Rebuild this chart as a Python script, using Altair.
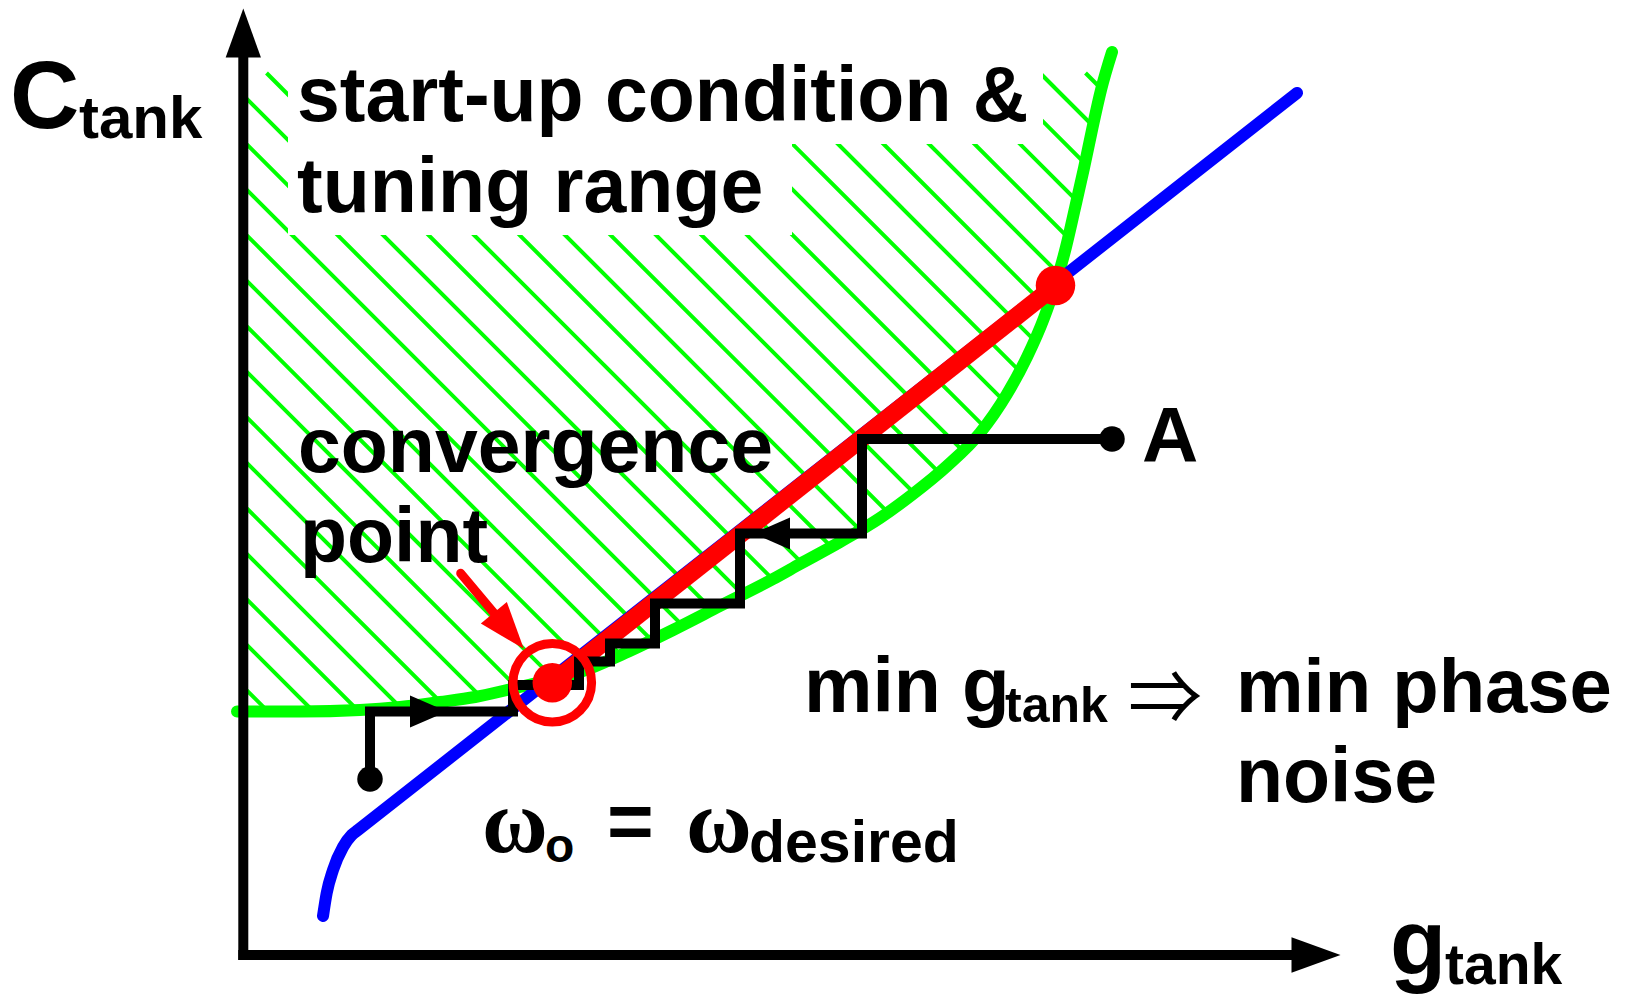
import altair as alt
import pandas as pd

# ---------------- diagram data (reference pixel units: g to the right, C downward) ----------------
# green start-up boundary curve
green_g = [237, 300, 360, 400, 440, 475, 507, 545, 580, 625, 673, 720, 773, 800, 840, 880, 913, 947,
           980, 1007, 1027, 1044, 1056, 1066, 1075, 1084, 1092, 1101, 1112]
green_c = [711.5, 711.5, 710, 707, 702, 697, 690, 681, 672, 653, 630, 606, 579, 564, 542, 518, 494, 466,
           433, 394, 357, 318, 283, 247, 208, 168, 130, 90, 52]

# blue oscillation-frequency curve (omega_o = omega_desired)
blue_g = [323, 326.7, 333, 343, 351.7, 358, 1297]
blue_c = [916, 893, 870, 847, 835, 830, 93]

# red tuning-range segment and its end points
red_g = [552.3, 1055.5]
red_c = [682.7, 285.5]

# black convergence staircase from start point to point A
stair_g = [370, 370, 513, 513, 579, 579, 610, 610, 655, 655, 740, 740, 862, 862, 1112]
stair_c = [779, 711.5, 711.5, 685, 685, 661.5, 661.5, 643.5, 643.5, 603.5, 603.5, 533.5, 533.5, 439, 439]
dot_g = [370, 1112]
dot_c = [779, 439]

# arrowheads on the staircase (centre, direction angle)
stair_arrow_g = [428.5, 771.5]
stair_arrow_c = [711.5, 533.5]
stair_arrow_angle = [0, 180]

# red pointer arrow to the convergence point
pointer_g = [460.7, 494.2]
pointer_c = [573.3, 613.3]
pointer_head = (508.8, 630.8, 50.3)

# axes
axis_origin = (243.3, 955)
y_axis_top = 57
x_axis_end = 1292
axis_arrow_g = [243.3, 1316]
axis_arrow_c = [33, 955]
axis_arrow_angle = [270, 0]

# hatch pattern parameters
hatch_top = 73
hatch_spacing = 45.5
hatch_ref = (248, 100)

# white box behind title text
box1 = (288, 1043, 60, 144)
box2 = (288, 792, 60, 235)

# labels
labels = ["start-up condition &", "tuning range", "convergence", "point", "A",
          "min", "g", "tank", "min phase", "noise", "=", "o", "desired",
          "C", "tank", "g", "tank"]
label_g = [297, 297, 298, 300, 1142, 804, 962, 1005, 1236, 1236, 607, 545, 749, 10, 79, 1390, 1445]
label_c = [120.7, 212.3, 471.7, 561.7, 461.7, 711.7, 711.7, 721.7, 711.7, 801.7, 848, 861.7, 861.7,
           128.3, 138.3, 975, 984]
label_size = [77, 77, 77, 77, 78, 77, 78, 50, 76, 77, 80, 48, 59, 96, 60, 92, 57]

omega_labels = ["ω", "ω"]
omega_g = [482, 686]
omega_c = [851.7, 851.7]

implies_label = ["⇒"]
implies_g = [1128]
implies_c = [724]

# ---------------- scales ----------------
XS = alt.Scale(domain=[0, 1627], range=[-8, 1619], nice=False, zero=False)
YS = alt.Scale(domain=[0, 1007], range=[-8, 999], nice=False, zero=False)


def X(f="g"):
    return alt.X(f"{f}:Q", scale=XS, axis=None)


def Y(f="c"):
    return alt.Y(f"{f}:Q", scale=YS, axis=None)


FONT = "Liberation Sans Narrow, Arial Narrow, Liberation Sans, sans-serif"

# hatch lines (45 degree pattern clipped at top/left, masked below the green curve)
hatch_rows = []
c0 = hatch_ref[1] - hatch_ref[0]
for k in range(-20, 15):
    c = c0 + hatch_spacing * k
    x_left = axis_origin[0]
    if x_left + c >= hatch_top:
        g1, c1 = x_left, x_left + c
    else:
        g1, c1 = hatch_top - c, hatch_top
    g2, c2 = 960 - c, 960
    if g1 < 1120 and c1 < 960:
        hatch_rows.append(dict(g=g1, c=c1, g2=g2, c2=c2))
hatch_df = pd.DataFrame(hatch_rows)

green_df = pd.DataFrame(dict(g=green_g, c=green_c, bottom=[1007] * len(green_g), i=range(len(green_g))))
blue_df = pd.DataFrame(dict(g=blue_g, c=blue_c, i=range(len(blue_g))))
red_df = pd.DataFrame(dict(g=red_g, c=red_c, i=range(len(red_g))))
stair_df = pd.DataFrame(dict(g=stair_g, c=stair_c, i=range(len(stair_g))))
dot_df = pd.DataFrame(dict(g=dot_g, c=dot_c))
sarrow_df = pd.DataFrame(dict(g=stair_arrow_g, c=stair_arrow_c, a=stair_arrow_angle))
aarrow_df = pd.DataFrame(dict(g=axis_arrow_g, c=axis_arrow_c, a=axis_arrow_angle))
pointer_df = pd.DataFrame(dict(g=[pointer_g[0]], c=[pointer_c[0]], g2=[pointer_g[1]], c2=[pointer_c[1]]))
phead_df = pd.DataFrame(dict(g=[pointer_head[0]], c=[pointer_head[1]], a=[pointer_head[2]]))
axes_df = pd.DataFrame(dict(g=[axis_origin[0], axis_origin[0] - 5], c=[axis_origin[1] + 5, axis_origin[1]],
                            g2=[axis_origin[0], x_axis_end], c2=[y_axis_top, axis_origin[1]]))
box_df = pd.DataFrame(dict(g=[box1[0], box2[0], 1110], g2=[box1[1], box2[1], 1627],
                           c=[box1[2], box2[2], 40], c2=[box1[3], box2[3], 1007]))
label_df = pd.DataFrame(dict(t=labels, g=label_g, c=label_c, s=label_size))
omega_df = pd.DataFrame(dict(t=omega_labels, g=omega_g, c=omega_c))
implies_df = pd.DataFrame(dict(t=implies_label, g=implies_g, c=implies_c))

ARROW = "M1,0L-1,-0.72L-1,0.72Z"
ARROW_S = "M1,0L-1,-0.86L-1,0.86Z"

hatch = alt.Chart(hatch_df).mark_rule(color="#00ff00", strokeWidth=4).encode(
    x=X(), y=Y(), x2="g2:Q", y2="c2:Q")
mask = alt.Chart(green_df).mark_area(color="white", opacity=1, interpolate="monotone", orient="vertical").encode(
    x=X(), y=Y(), y2="bottom:Q")
boxes = alt.Chart(box_df).mark_rect(color="white", opacity=1).encode(x=X(), x2="g2:Q", y=Y(), y2="c2:Q")
green = alt.Chart(green_df).mark_line(color="#00ff00", strokeWidth=12, interpolate="monotone",
                                      strokeCap="round").encode(x=X(), y=Y(), order="i:Q")
blue = alt.Chart(blue_df).mark_line(color="#0000ff", strokeWidth=12, interpolate="monotone",
                                    strokeCap="round").encode(x=X(), y=Y(), order="i:Q")
red = alt.Chart(red_df).mark_line(color="#ff0000", strokeWidth=18).encode(x=X(), y=Y(), order="i:Q")
stair = alt.Chart(stair_df).mark_line(color="black", strokeWidth=10, strokeJoin="miter").encode(
    x=X(), y=Y(), order="i:Q")
dots = alt.Chart(dot_df).mark_point(shape="circle", filled=True, color="black", opacity=1, size=650,
                                    strokeWidth=0).encode(x=X(), y=Y())
sarrows = alt.Chart(sarrow_df).mark_point(shape=ARROW_S, filled=True, color="black", opacity=1, size=1369,
                                          strokeWidth=0).encode(x=X(), y=Y(), angle=alt.Angle("a:Q", scale=None))
red_dots = alt.Chart(red_df).mark_point(shape="circle", filled=True, color="#ff0000", opacity=1, size=1560,
                                        strokeWidth=0).encode(x=X(), y=Y())
ring = alt.Chart(red_df.iloc[[0]]).mark_point(shape="circle", filled=False, color="#ff0000", opacity=1,
                                              size=6178, strokeWidth=9).encode(x=X(), y=Y())
pointer = alt.Chart(pointer_df).mark_rule(color="#ff0000", strokeWidth=9, strokeCap="round").encode(
    x=X(), y=Y(), x2="g2:Q", y2="c2:Q")
phead = alt.Chart(phead_df).mark_point(shape=ARROW, filled=True, color="#ff0000", opacity=1, size=2200,
                                       strokeWidth=0).encode(x=X(), y=Y(), angle=alt.Angle("a:Q", scale=None))
axes = alt.Chart(axes_df).mark_rule(color="black", strokeWidth=10).encode(x=X(), y=Y(), x2="g2:Q", y2="c2:Q")
aarrows = alt.Chart(aarrow_df).mark_point(shape=ARROW, filled=True, color="black", opacity=1, size=2401,
                                          strokeWidth=0).encode(x=X(), y=Y(), angle=alt.Angle("a:Q", scale=None))
texts = alt.Chart(label_df).mark_text(font=FONT, fontWeight="bold", align="left", baseline="alphabetic",
                                      color="black").encode(x=X(), y=Y(), text="t:N",
                                                            size=alt.Size("s:Q", scale=None))
omegas = alt.Chart(omega_df).mark_text(font="Liberation Serif, DejaVu Serif, serif", fontWeight="bold",
                                       fontSize=90, align="left", baseline="alphabetic",
                                       color="black").encode(x=X(), y=Y(), text="t:N")
implies = alt.Chart(implies_df).mark_text(font="Noto Sans CJK JP, DejaVu Sans, sans-serif", fontSize=74,
                                          align="left", baseline="alphabetic",
                                          color="black").encode(x=X(), y=Y(), text="t:N")

chart = alt.layer(
    hatch, mask, boxes, green, blue, red, stair, dots, sarrows,
    red_dots, ring, pointer, phead, axes, aarrows, texts, omegas, implies
).properties(
    width=1611, height=991, padding=0,
    autosize=alt.AutoSizeParams(type="none")
).configure_view(stroke=None)

chart.save("out.html", embed_options={"renderer": "svg", "actions": False})
